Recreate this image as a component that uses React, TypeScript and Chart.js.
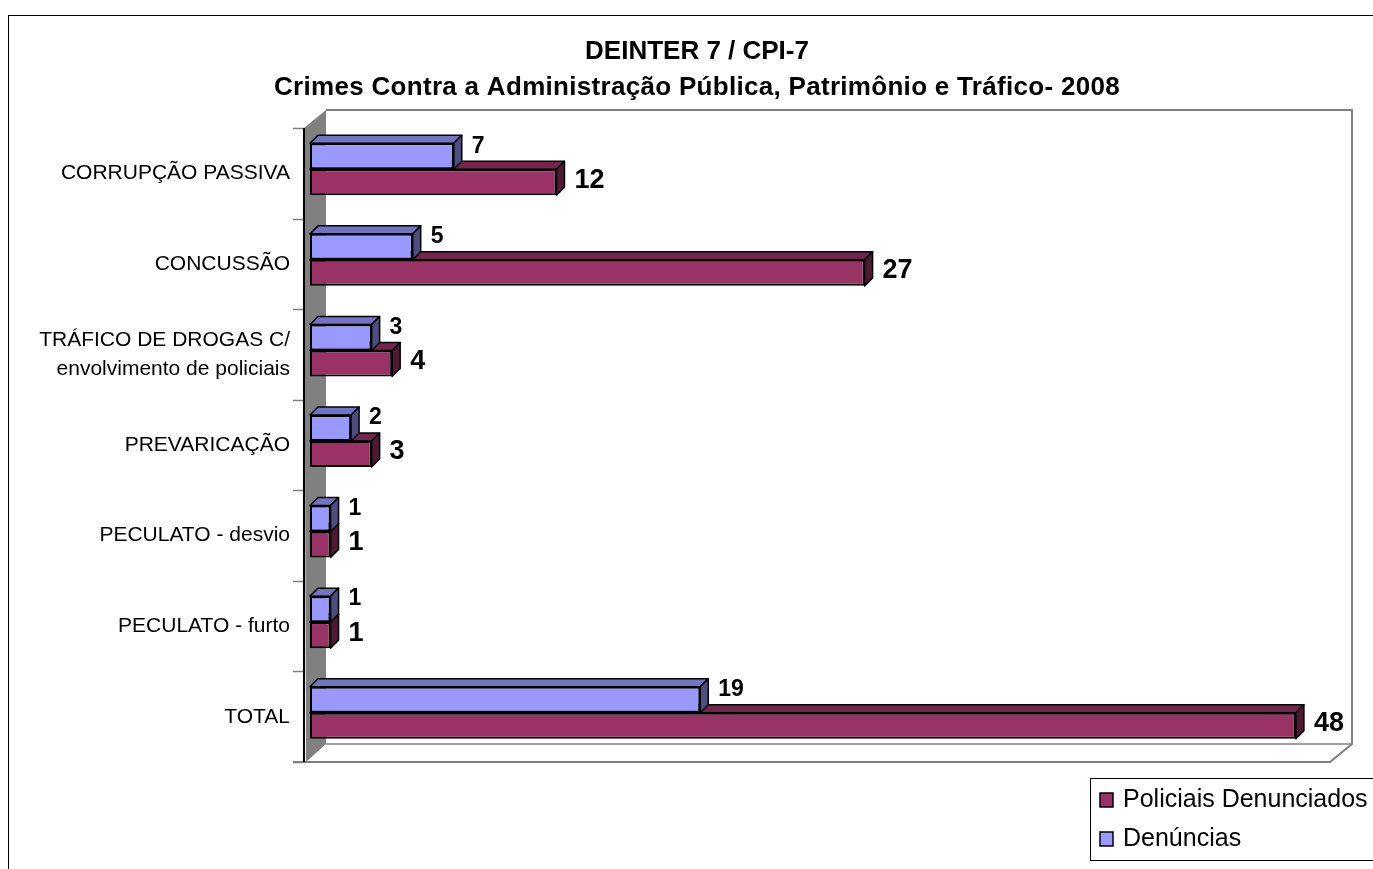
import { useEffect, useRef } from 'react';
import { Chart, registerables } from 'chart.js';

Chart.register(...registerables);

const titleLines = ['DEINTER 7 / CPI-7', 'Crimes Contra a Administração Pública, Patrimônio e Tráfico- 2008'];
const categories: (string | string[])[] = [
  'CORRUPÇÃO PASSIVA',
  'CONCUSSÃO',
  ['TRÁFICO DE DROGAS C/', 'envolvimento de policiais'],
  'PREVARICAÇÃO',
  'PECULATO - desvio',
  'PECULATO - furto',
  'TOTAL',
];
const denuncias = [7, 5, 3, 2, 1, 1, 19];
const policiais = [12, 27, 4, 3, 1, 1, 48];
const seriesNames = ['Denúncias', 'Policiais Denunciados'];
const seriesColors = ['#9999FF', '#993366'];
const topColors = ['#7373BF', '#73264D'];
const sideColors = ['#4D4D80', '#4D1A33'];

const FONT = "'Liberation Sans', Arial, sans-serif";
const DX = 8;
const DY = 8;
const SHIFT = -4;
const WALL_DX = 22;
const WALL_DY = 18;

const excel3d = {
  id: 'excel3d',
  beforeDraw(chart: any) {
    const { ctx, chartArea: a } = chart;
    ctx.save();
    ctx.fillStyle = '#fff';
    ctx.fillRect(0, 0, chart.width, chart.height);
    // outer frame
    ctx.strokeStyle = '#000';
    ctx.lineWidth = 1;
    ctx.strokeRect(8.5, 15.5, chart.width + 40, chart.height + 40);
    // title
    ctx.fillStyle = '#000';
    ctx.font = `bold 26px ${FONT}`;
    ctx.textAlign = 'center';
    ctx.textBaseline = 'middle';
    ctx.fillText(titleLines[0], 697, 52);
    (ctx as any).letterSpacing = '0.3px';
    ctx.fillText(titleLines[1], 697, 88);
    (ctx as any).letterSpacing = '0px';

    const fx = a.left - 6;
    const bx = fx + WALL_DX;
    const top = a.top;
    const bot = a.bottom;
    const backRight = a.right + 15;

    // left wall
    ctx.fillStyle = '#808080';
    ctx.beginPath();
    ctx.moveTo(fx, top);
    ctx.lineTo(bx, top - WALL_DY);
    ctx.lineTo(bx, bot - WALL_DY);
    ctx.lineTo(fx + 2, bot);
    ctx.closePath();
    ctx.fill();

    // back floor edge
    ctx.strokeStyle = '#A0A0A0';
    ctx.lineWidth = 2;
    ctx.beginPath();
    ctx.moveTo(bx, bot - WALL_DY);
    ctx.lineTo(backRight, bot - WALL_DY);
    ctx.stroke();

    // back wall outline
    ctx.strokeStyle = '#808080';
    ctx.lineWidth = 2;
    ctx.beginPath();
    ctx.moveTo(bx, top - WALL_DY);
    ctx.lineTo(backRight, top - WALL_DY);
    ctx.lineTo(backRight, bot - WALL_DY);
    ctx.lineTo(backRight - WALL_DX, bot);
    ctx.lineTo(fx - 11, bot);
    ctx.stroke();

    // ticks
    ctx.strokeStyle = '#808080';
    ctx.lineWidth = 1.5;
    const n = categories.length;
    for (let i = 0; i <= n; i++) {
      const yy = Math.round(top + (i * (bot - top)) / n) + 0.5;
      ctx.beginPath();
      ctx.moveTo(fx - 11, yy);
      ctx.lineTo(fx, yy);
      ctx.stroke();
    }
    // axis line
    ctx.strokeStyle = '#000';
    ctx.lineWidth = 2;
    ctx.beginPath();
    ctx.moveTo(fx, top);
    ctx.lineTo(fx, bot);
    ctx.stroke();
    ctx.restore();
  },
  beforeDatasetsDraw(chart: any) {
    chart.ctx.save();
    chart.ctx.translate(0, SHIFT);
  },
  afterDatasetDraw(chart: any, args: any) {
    const { ctx } = chart;
    const idx = args.index;
    const meta = args.meta;
    ctx.save();
    ctx.strokeStyle = '#000';
    ctx.lineWidth = 1.5;
    ctx.lineJoin = 'round';
    meta.data.forEach((bar: any) => {
      const { x, y, base, height } = bar.getProps(['x', 'y', 'base', 'height'], true);
      const left = Math.min(x, base);
      const right = Math.max(x, base);
      const t = y - height / 2;
      const b = y + height / 2;
      // top face
      ctx.fillStyle = topColors[idx];
      ctx.beginPath();
      ctx.moveTo(left, t);
      ctx.lineTo(left + DX, t - DY);
      ctx.lineTo(right + DX, t - DY);
      ctx.lineTo(right, t);
      ctx.closePath();
      ctx.fill();
      ctx.stroke();
      // side face
      ctx.fillStyle = sideColors[idx];
      ctx.beginPath();
      ctx.moveTo(right, t);
      ctx.lineTo(right + DX, t - DY);
      ctx.lineTo(right + DX, b - DY);
      ctx.lineTo(right, b);
      ctx.closePath();
      ctx.fill();
      ctx.stroke();
    });
    ctx.restore();
  },
  afterDatasetsDraw(chart: any) {
    const { ctx } = chart;
    ctx.fillStyle = '#000';
    ctx.textAlign = 'left';
    ctx.textBaseline = 'middle';
    chart.data.datasets.forEach((ds: any, di: number) => {
      const meta = chart.getDatasetMeta(di);
      meta.data.forEach((bar: any, i: number) => {
        const { x, y, height } = bar.getProps(['x', 'y', 'height'], true);
        if (di === 0) {
          ctx.font = `bold 23px ${FONT}`;
          ctx.fillText(String(ds.data[i]), x + DX + 10, y - height / 2 + 3);
        } else {
          ctx.font = `bold 27px ${FONT}`;
          ctx.fillText(String(ds.data[i]), x + DX + 10, y - 2);
        }
      });
    });
    ctx.restore();
  },
  afterDraw(chart: any) {
    const { ctx } = chart;
    ctx.save();
    ctx.strokeStyle = '#000';
    ctx.lineWidth = 1;
    ctx.strokeRect(1090.5, 778.5, 400, 82);
    const items = [
      { name: seriesNames[1], color: seriesColors[1], y: 800 },
      { name: seriesNames[0], color: seriesColors[0], y: 839 },
    ];
    ctx.font = `25px ${FONT}`;
    ctx.textAlign = 'left';
    ctx.textBaseline = 'middle';
    items.forEach((it) => {
      ctx.fillStyle = it.color;
      ctx.fillRect(1100, it.y - 7, 13, 14);
      ctx.lineWidth = 1.5;
      ctx.strokeStyle = '#000';
      ctx.strokeRect(1100, it.y - 7, 13, 14);
      ctx.fillStyle = '#000';
      ctx.fillText(it.name, 1123, it.y);
    });
    ctx.restore();
  },
};

export default function App() {
  const ref = useRef<HTMLCanvasElement>(null);
  useEffect(() => {
    const canvas = ref.current;
    if (!canvas) return;
    const chart = new Chart(canvas, {
      type: 'bar',
      data: {
        labels: categories,
        datasets: [
          {
            label: seriesNames[0],
            data: denuncias,
            backgroundColor: seriesColors[0],
            borderColor: '#000',
            borderWidth: 2,
            borderSkipped: false,
            categoryPercentage: 0.574,
            barPercentage: 1,
            clip: false,
          } as any,
          {
            label: seriesNames[1],
            data: policiais,
            backgroundColor: seriesColors[1],
            borderColor: '#000',
            borderWidth: 2,
            borderSkipped: false,
            categoryPercentage: 0.574,
            barPercentage: 1,
            clip: false,
          } as any,
        ],
      },
      options: {
        indexAxis: 'y',
        responsive: false,
        animation: false,
        devicePixelRatio: 1,
        events: [],
        layout: { padding: { left: 20, top: 128, right: 36, bottom: 107 } },
        plugins: {
          legend: { display: false },
          title: { display: false },
          tooltip: { enabled: false },
        },
        scales: {
          x: { display: false, min: 0, max: 50 },
          y: {
            grid: { display: false, drawTicks: false },
            border: { display: false },
            ticks: {
              padding: 20,
              color: '#000',
              font: { family: FONT, size: 21, lineHeight: 1.38 },
            },
            afterFit: (scale: any) => {
              scale.width = 290;
            },
          },
        },
      } as any,
      plugins: [excel3d],
    });
    return () => chart.destroy();
  }, []);
  return (
    <div style={{ position: 'fixed', left: 0, top: 0, width: 1373, height: 869, background: '#fff' }}>
      <canvas ref={ref} width={1373} height={869} style={{ display: 'block', width: 1373, height: 869 }} />
    </div>
  );
}
